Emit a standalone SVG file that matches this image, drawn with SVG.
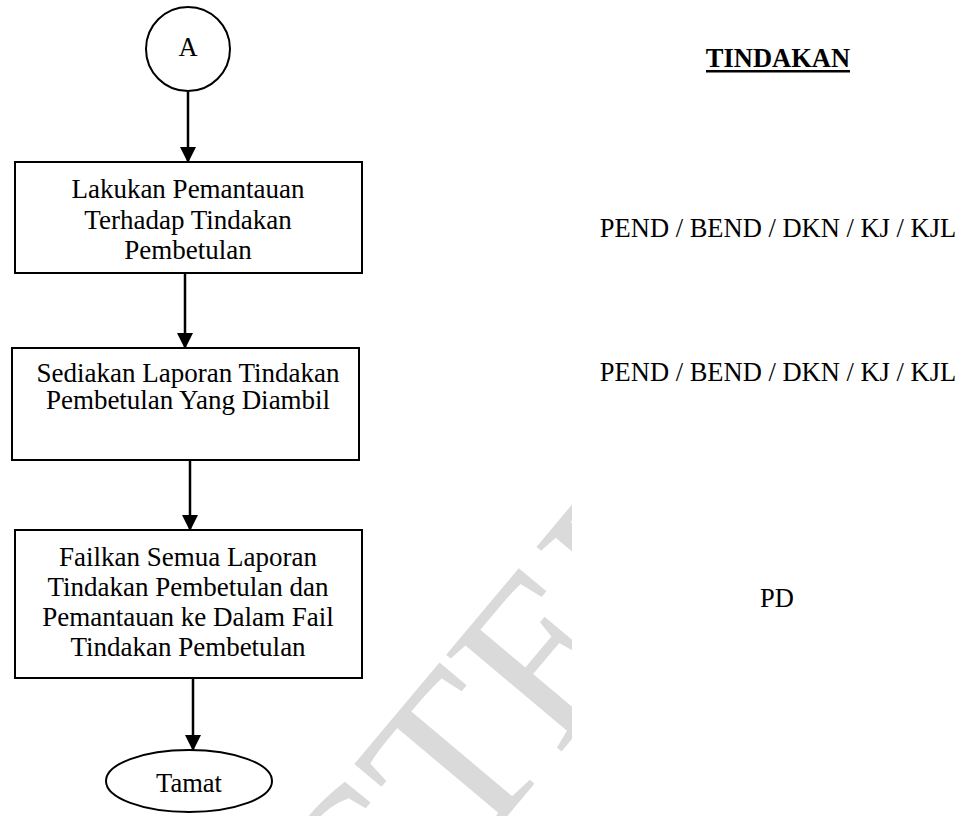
<svg xmlns="http://www.w3.org/2000/svg" width="968" height="816" viewBox="0 0 968 816">
<style>
.box{fill:none;stroke:#000;stroke-width:2}
.t{font-family:"Liberation Serif","Times New Roman",serif;font-size:26.5px;fill:#000;text-anchor:middle}
.b{font-size:27px}
.conn{stroke:#000;stroke-width:2.5;fill:none}
.wm{font-family:"Liberation Serif","Times New Roman",serif;font-size:230px;fill:#dadada}
</style>
<defs>
<marker id="ah" markerUnits="userSpaceOnUse" markerWidth="16" markerHeight="16" refX="15" refY="8" orient="auto">
<path d="M0,0 L16,8 L0,16 Z" fill="#000"/>
</marker>
<clipPath id="wmclip"><rect x="0" y="0" width="572" height="816"/></clipPath>
</defs>
<rect x="0" y="0" width="968" height="816" fill="#fff"/>
<g id="watermark" clip-path="url(#wmclip)">
<g transform="translate(467,864) rotate(-50)">
<text class="wm" x="0" y="0" text-anchor="end">C</text>
<text class="wm" x="0" y="0">TED</text>
</g>
</g>
<g id="connectors">
<line class="conn" x1="188" y1="92" x2="188" y2="162" marker-end="url(#ah)"/>
<line class="conn" x1="185" y1="273" x2="185" y2="348" marker-end="url(#ah)"/>
<line class="conn" x1="190" y1="460" x2="190" y2="530" marker-end="url(#ah)"/>
<line class="conn" x1="193" y1="678" x2="193" y2="750" marker-end="url(#ah)"/>
</g>
<g id="nodeA">
<circle cx="188" cy="49" r="42" class="box"/>
<text class="t" x="188" y="56">A</text>
</g>
<g id="node1">
<rect class="box" x="15" y="162" width="347" height="111"/>
<text class="t b" x="188" y="198">Lakukan Pemantauan</text>
<text class="t b" x="188" y="229">Terhadap Tindakan</text>
<text class="t b" x="188" y="259">Pembetulan</text>
</g>
<g id="node2">
<rect class="box" x="12" y="348" width="347" height="112"/>
<text class="t b" x="188" y="382">Sediakan Laporan Tindakan</text>
<text class="t b" x="188" y="409">Pembetulan Yang Diambil</text>
</g>
<g id="node3">
<rect class="box" x="15" y="530" width="347" height="148"/>
<text class="t b" x="188" y="566">Failkan Semua Laporan</text>
<text class="t b" x="188" y="596">Tindakan Pembetulan dan</text>
<text class="t b" x="188" y="626">Pemantauan ke Dalam Fail</text>
<text class="t b" x="188" y="656">Tindakan Pembetulan</text>
</g>
<g id="nodeEnd">
<ellipse class="box" cx="189" cy="781" rx="83" ry="31"/>
<text class="t" x="189" y="792">Tamat</text>
</g>
<g id="actions">
<text class="t" x="778" y="67" font-weight="bold">TINDAKAN</text>
<rect x="706" y="70" width="144" height="2.5" fill="#000"/>
<text class="t" x="778" y="237">PEND / BEND / DKN / KJ / KJL</text>
<text class="t" x="778" y="381">PEND / BEND / DKN / KJ / KJL</text>
<text class="t" x="777" y="607">PD</text>
</g>
</svg>
